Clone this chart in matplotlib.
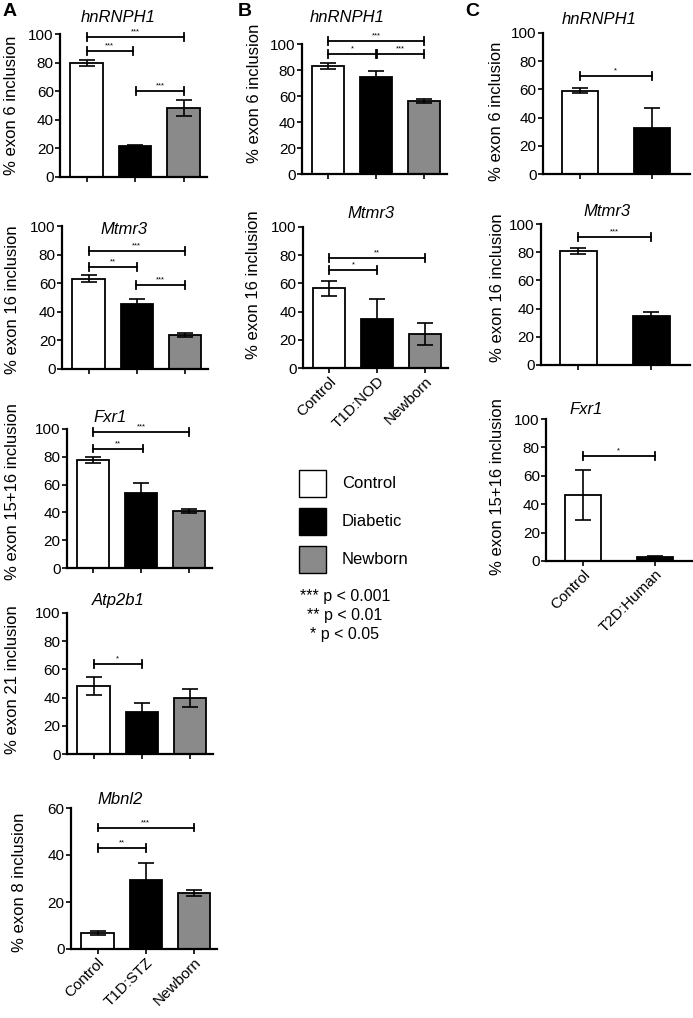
import matplotlib.pyplot as plt
from matplotlib.patches import Rectangle

plt.rcParams['font.family'] = ['Liberation Sans', 'DejaVu Sans']

W, H = 693, 1018

group_names = ['Control', 'Diabetic', 'Newborn']
group_colors = ['white', 'black', '#8a8a8a']

# panel A (T1D:STZ)
a_labels = ['Control', 'T1D:STZ', 'Newborn']
a_hnrnph1 = [79.5, 21.5, 48.5]
a_hnrnph1_err = [2.2, 0.6, 5.5]
a_hnrnph1_sig = [(0, 2, 97.7, '***'), (0, 0.95, 87.8, '***'), (1.02, 2, 60.4, '***')]
a_mtmr3 = [63.2, 45.8, 23.7]
a_mtmr3_err = [2.5, 3.3, 1.3]
a_mtmr3_sig = [(0, 2, 82.5, '***'), (0, 1, 71.6, '**'), (0.98, 2, 59.0, '***')]
a_fxr1 = [77.8, 53.7, 40.8]
a_fxr1_err = [2.2, 7.5, 1.4]
a_fxr1_sig = [(0, 2, 97.8, '***'), (0, 1.03, 85.9, '**')]
a_atp2b1 = [48.2, 30.0, 39.8]
a_atp2b1_err = [6.7, 6.1, 6.4]
a_atp2b1_sig = [(0, 1, 63.7, '*')]
a_mbnl2 = [6.8, 29.5, 23.9]
a_mbnl2_err = [1.0, 7.0, 1.3]
a_mbnl2_sig = [(0, 2, 51.7, '***'), (0, 1, 42.9, '**')]

# panel B (T1D:NOD)
b_labels = ['Control', 'T1D:NOD', 'Newborn']
b_hnrnph1 = [83.0, 74.5, 56.2]
b_hnrnph1_err = [2.2, 4.5, 1.2]
b_hnrnph1_sig = [(0, 2, 102.3, '***'), (0, 0.99, 92.3, '*'), (1.02, 2, 92.3, '***')]
b_mtmr3 = [56.4, 34.8, 24.3]
b_mtmr3_err = [5.3, 14.0, 7.7]
b_mtmr3_sig = [(0, 2, 78.0, '**'), (0, 1, 69.2, '*')]

# panel C (T2D:Human)
c_labels = ['Control', 'T2D:Human']
c_hnrnph1 = [59.0, 32.3]
c_hnrnph1_err = [1.9, 14.4]
c_hnrnph1_sig = [(0, 1, 69.4, '*')]
c_mtmr3 = [81.0, 34.8]
c_mtmr3_err = [2.1, 2.6]
c_mtmr3_sig = [(0, 1, 90.8, '***')]
c_fxr1 = [46.5, 2.5]
c_fxr1_err = [17.7, 1.2]
c_fxr1_sig = [(0, 1, 73.8, '*')]

fig = plt.figure(figsize=(W / 100, H / 100), dpi=100)


def px_axes(left, right, top, bottom):
    return fig.add_axes([left / W, 1 - bottom / H, (right - left) / W, (bottom - top) / H])


def draw(box, means, errs, sigs, gene, ylabel, title_xy, ylabel_xy,
         ymax=100, step=20, width=0.67, xlim=(-0.55, 2.48), labels=None):
    ax = px_axes(*box)
    x = list(range(len(means)))
    ax.bar(x, means, width=width, color=group_colors[:len(means)],
           edgecolor='black', linewidth=1.3, zorder=2)
    ax.errorbar(x, means, yerr=errs, fmt='none', ecolor='black',
                elinewidth=1.2, capsize=5.5, capthick=1.2, zorder=3)
    ax.set_xlim(*xlim)
    ax.set_ylim(0, ymax)
    ax.set_yticks(range(0, ymax + 1, step))
    ax.set_xticks(x)
    if labels:
        ax.set_xticklabels(labels, rotation=45, ha='right', rotation_mode='anchor',
                           fontsize=11.5)
    else:
        ax.set_xticklabels([])
    for s in ['top', 'right']:
        ax.spines[s].set_visible(False)
    for s in ['left', 'bottom']:
        ax.spines[s].set_linewidth(1.6)
    ax.tick_params(direction='out', length=3.5, width=1.2, labelsize=11, pad=1)
    cap = ymax * 0.028
    for i, j, y, stars in sigs:
        ax.plot([i, j], [y, y], color='black', lw=1.3, clip_on=False)
        ax.plot([i, i], [y - cap, y + cap], color='black', lw=1.3, clip_on=False)
        ax.plot([j, j], [y - cap, y + cap], color='black', lw=1.3, clip_on=False)
        ax.text((i + j) / 2, y + cap * 0.4, stars, fontsize=5.5, ha='center', va='bottom')
    fig.text(title_xy[0] / W, 1 - title_xy[1] / H, gene, style='italic', fontsize=12,
             ha='center', va='center')
    fig.text(ylabel_xy[0] / W, 1 - ylabel_xy[1] / H, ylabel, rotation=90, fontsize=12,
             ha='center', va='center')
    return ax


draw((60, 207, 34, 177), a_hnrnph1, a_hnrnph1_err, a_hnrnph1_sig, 'hnRNPH1',
     '% exon 6 inclusion', (118, 18), (12, 105))
draw((62, 208, 226, 369), a_mtmr3, a_mtmr3_err, a_mtmr3_sig, 'Mtmr3',
     '% exon 16 inclusion', (124, 230), (13, 300))
draw((67, 212, 429, 568), a_fxr1, a_fxr1_err, a_fxr1_sig, 'Fxr1',
     '% exon 15+16 inclusion', (110, 418), (13, 492))
draw((67, 213, 613, 754), a_atp2b1, a_atp2b1_err, a_atp2b1_sig, 'Atp2b1',
     '% exon 21 inclusion', (118, 600), (13, 680))
draw((71, 217, 808, 949), a_mbnl2, a_mbnl2_err, a_mbnl2_sig, 'Mbnl2',
     '% exon 8 inclusion', (120, 800), (20, 882), ymax=60, labels=a_labels)

draw((302, 447, 44, 174), b_hnrnph1, b_hnrnph1_err, b_hnrnph1_sig, 'hnRNPH1',
     '% exon 6 inclusion', (347, 17), (255, 93))
draw((303, 448, 227, 368), b_mtmr3, b_mtmr3_err, b_mtmr3_sig, 'Mtmr3',
     '% exon 16 inclusion', (371, 213), (253, 285), labels=b_labels)

c_xlim = (-0.51, 1.53)
draw((543, 690, 33, 174), c_hnrnph1, c_hnrnph1_err, c_hnrnph1_sig, 'hnRNPH1',
     '% exon 6 inclusion', (599, 19), (497, 111), width=0.5, xlim=c_xlim)
draw((541, 690, 224, 365), c_mtmr3, c_mtmr3_err, c_mtmr3_sig, 'Mtmr3',
     '% exon 16 inclusion', (607, 212), (498, 288), width=0.5, xlim=c_xlim)
draw((546, 693, 419, 561), c_fxr1, c_fxr1_err, c_fxr1_sig, 'Fxr1',
     '% exon 15+16 inclusion', (586, 409), (498, 487), width=0.5, xlim=c_xlim,
     labels=c_labels)

# panel letters
for letter, px, py in [('A', 10, 12), ('B', 245, 12), ('C', 472, 12)]:
    fig.text(px / W, 1 - py / H, letter, fontsize=14, fontweight='bold',
             ha='center', va='center')

# legend
leg = fig.add_axes([0, 0, 1, 1])
leg.set_xlim(0, W)
leg.set_ylim(H, 0)
leg.axis('off')
for k, (name, col) in enumerate(zip(group_names, group_colors)):
    y0 = 470 + 38 * k
    leg.add_patch(Rectangle((299, y0), 27, 27, facecolor=col, edgecolor='black', lw=1.0))
    leg.text(342, y0 + 13.5, name, fontsize=12, ha='left', va='center')
for k, line in enumerate(['*** p < 0.001', '** p < 0.01', '* p < 0.05']):
    leg.text(345, 596 + 19.5 * k, line, fontsize=11.5, ha='center', va='center')

fig.savefig('out.png', dpi=100)
